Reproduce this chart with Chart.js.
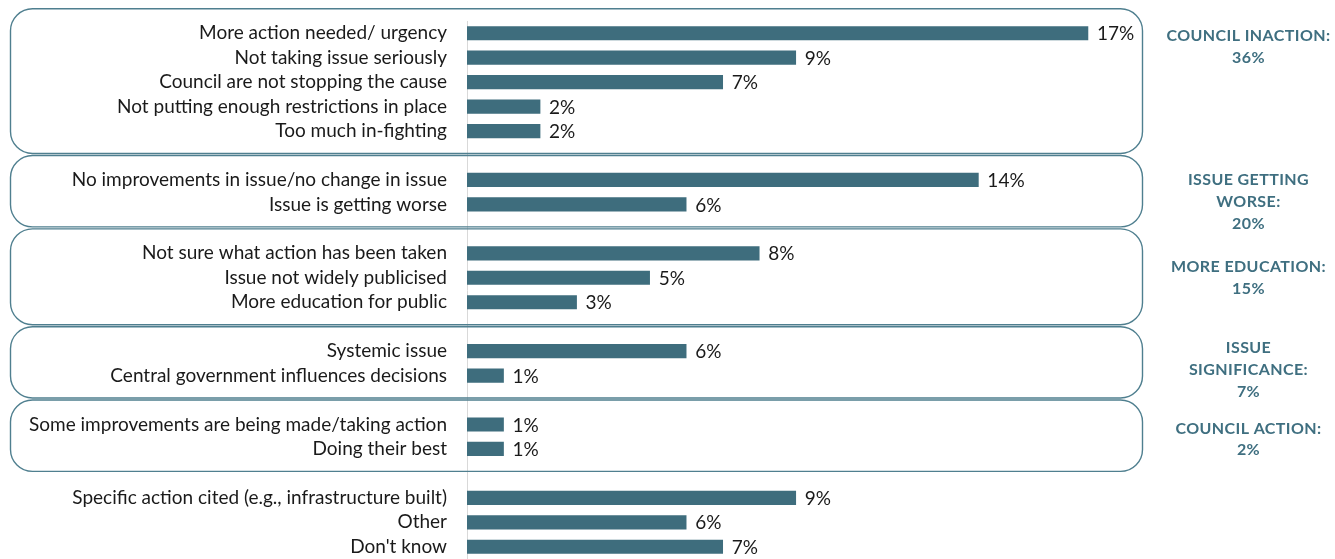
<!DOCTYPE html>
<html>
<head>
<meta charset="utf-8">
<script src="https://cdn.jsdelivr.net/npm/chart.js@4.4.1/dist/chart.umd.min.js"></script>
<style>
  html, body { margin: 0; padding: 0; background: #fff; }
  #wrap { width: 1335px; height: 559px; position: relative; }
</style>
</head>
<body>
<div id="wrap"><canvas id="reasonsChart"></canvas></div>
<script>
// --- Data ---
// empty strings are spacer rows between the groups
const categories = [
  "More action needed/ urgency",
  "Not taking issue seriously",
  "Council are not stopping the cause",
  "Not putting enough restrictions in place",
  "Too much in-fighting",
  "",
  "No improvements in issue/no change in issue",
  "Issue is getting worse",
  "",
  "Not sure what action has been taken",
  "Issue not widely publicised",
  "More education for public",
  "",
  "Systemic issue",
  "Central government influences decisions",
  "",
  "Some improvements are being made/taking action",
  "Doing their best",
  "",
  "Specific action cited (e.g., infrastructure built)",
  "Other",
  "Don't know"
];
const percentages = [17, 9, 7, 2, 2, null, 14, 6, null, 8, 5, 3, null, 6, 1, null, 1, 1, null, 9, 6, 7];

// groups: first and last row index, plus the summary text on the right
const groupRows = [[0, 4], [6, 7], [9, 11], [13, 14], [16, 17]];
const groupTitles = [
  ["COUNCIL INACTION:"],
  ["ISSUE GETTING", "WORSE:"],
  ["MORE EDUCATION:"],
  ["ISSUE", "SIGNIFICANCE:"],
  ["COUNCIL ACTION:"]
];
const groupTotals = [36, 20, 15, 7, 2];

// --- Styling ---
const BAR = "#3e6d7d";
const TEAL = "#3f6f80";
const FONT = "Lato, 'Open Sans', sans-serif";
// row (fractional) where each summary block starts
const titleRow = [0.12, 6, 9.57, 12.88, 16.16];

const groupBoxes = {
  id: "groupBoxes",
  afterDraw(chart) {
    const { ctx, chartArea, scales: { y } } = chart;
    const step = y.getPixelForValue(1) - y.getPixelForValue(0);
    ctx.save();
    ctx.strokeStyle = "#4f7f8f";
    ctx.lineWidth = 1.4;
    groupRows.forEach(([a, b]) => {
      const top = y.getPixelForValue(a) - step;
      const bottom = y.getPixelForValue(b) + step - 2;
      ctx.beginPath();
      ctx.roundRect(10.5, top, chartArea.right - 10, bottom - top, 22);
      ctx.stroke();
    });

    // summary text on the right
    ctx.fillStyle = TEAL;
    ctx.font = "bold 16px " + FONT;
    ctx.textAlign = "center";
    ctx.textBaseline = "middle";
    ctx.letterSpacing = "0.4px";
    const cx = (chartArea.right + chart.width) / 2 + 10;
    groupTitles.forEach((lines, i) => {
      const y0 = y.getPixelForValue(titleRow[i]);
      [...lines, groupTotals[i] + "%"].forEach((t, k) => {
        ctx.fillText(t, cx, y0 + k * 21.7);
      });
    });
    ctx.restore();
  }
};

const valueLabels = {
  id: "valueLabels",
  afterDatasetsDraw(chart) {
    const { ctx } = chart;
    const meta = chart.getDatasetMeta(0);
    ctx.save();
    ctx.fillStyle = "#1a1a1a";
    ctx.font = "19px " + FONT;
    ctx.textAlign = "left";
    ctx.textBaseline = "middle";
    meta.data.forEach((bar, i) => {
      const v = percentages[i];
      if (v == null) return;
      ctx.fillText(v + "%", bar.x + 9, bar.y + 1);
    });
    ctx.restore();
  }
};

new Chart(document.getElementById("reasonsChart"), {
  type: "bar",
  data: {
    labels: categories,
    datasets: [{
      data: percentages,
      backgroundColor: BAR,
      borderWidth: 0,
      barThickness: 13.5
    }]
  },
  options: {
    indexAxis: "y",
    responsive: true,
    maintainAspectRatio: false,
    animation: false,
    layout: { padding: { top: 21, right: 193, bottom: 0, left: 0 } },
    plugins: { legend: { display: false }, tooltip: { enabled: false } },
    scales: {
      x: { display: false, min: 0, max: 18.48 },
      y: {
        grid: { display: false, drawTicks: false },
        border: { display: true, color: "#d9d9d9", width: 1 },
        ticks: {
          color: "#1a1a1a",
          padding: 20,
          autoSkip: false,
          font: { family: FONT, size: 19 }
        },
        afterFit(scale) {
          scale.width = 467;
          scale.paddingTop = 0;
          scale.paddingBottom = 0;
        }
      }
    }
  },
  plugins: [groupBoxes, valueLabels]
});
</script>
</body>
</html>
